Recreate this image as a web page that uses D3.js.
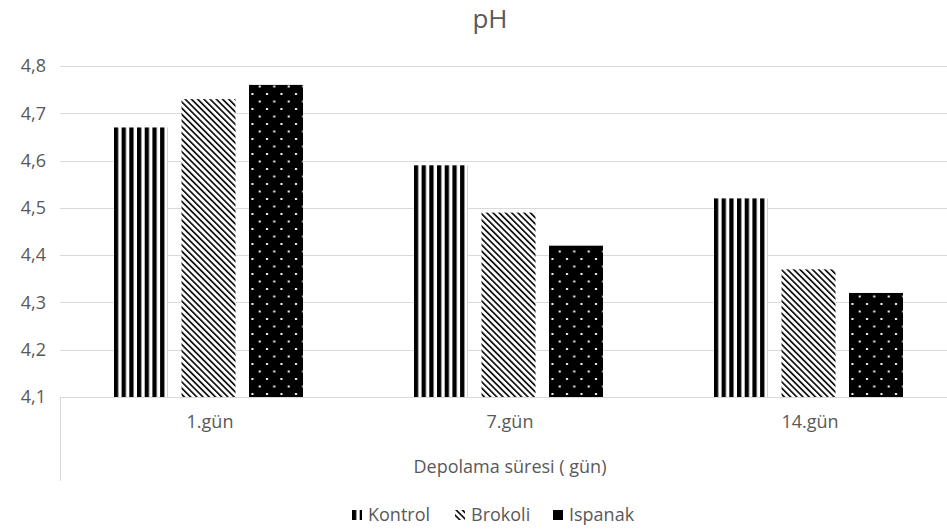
<!DOCTYPE html>
<html>
<head>
<meta charset="utf-8">
<script src="https://cdn.jsdelivr.net/npm/d3@7"></script>
<style>
  html, body { margin: 0; padding: 0; background: #fff; }
  svg { display: block; font-family: "Open Sans", "Noto Sans", sans-serif; }
</style>
</head>
<body>
<div id="chart"></div>
<script>
// pH değerleri, depolama süresine göre
const categories = ["1.gün", "7.gün", "14.gün"];
const seriesNames = ["Kontrol", "Brokoli", "Ispanak"];
const kontrol = [4.67, 4.59, 4.52];
const brokoli = [4.73, 4.49, 4.37];
const ispanak = [4.76, 4.42, 4.32];
const yTicks = [4.1, 4.2, 4.3, 4.4, 4.5, 4.6, 4.7, 4.8];
const chartTitle = "pH";
const xAxisTitle = "Depolama süresi ( gün)";

const seriesValues = [kontrol, brokoli, ispanak];
const patternIds = ["pat-kontrol", "pat-brokoli", "pat-ispanak"];

const W = 947, H = 529;
// the plot area runs slightly past the right edge of the canvas
const plot = { left: 60, right: 960, top: 66, bottom: 397 };
const textColor = "#595959";
const gridColor = "#d9d9d9";

const svg = d3.select("#chart").append("svg")
  .attr("width", W).attr("height", H);

// Fill patterns
const defs = svg.append("defs");
const pk = defs.append("pattern").attr("id", patternIds[0])
  .attr("patternUnits", "userSpaceOnUse").attr("width", 7.7).attr("height", 10);
pk.append("rect").attr("width", 7.7).attr("height", 10).attr("fill", "#fff");
pk.append("rect").attr("x", 0).attr("width", 4.3).attr("height", 10).attr("fill", "#000");

const pb = defs.append("pattern").attr("id", patternIds[1])
  .attr("patternUnits", "userSpaceOnUse").attr("width", 4.4).attr("height", 10)
  .attr("patternTransform", "rotate(-45)");
pb.append("rect").attr("width", 4.4).attr("height", 10).attr("fill", "#fff");
pb.append("rect").attr("width", 1.6).attr("height", 10).attr("fill", "#000");

const pi = defs.append("pattern").attr("id", patternIds[2])
  .attr("patternUnits", "userSpaceOnUse").attr("width", 14.5).attr("height", 15);
pi.append("rect").attr("width", 14.5).attr("height", 15).attr("fill", "#000");
pi.append("rect").attr("x", 3).attr("y", 3).attr("width", 2).attr("height", 2).attr("fill", "#fff");
pi.append("rect").attr("x", 10.25).attr("y", 10.5).attr("width", 2).attr("height", 2).attr("fill", "#fff");

// Scales
const y = d3.scaleLinear().domain([4.1, 4.8]).range([plot.bottom, plot.top]);
const x0 = d3.scaleBand().domain(categories).range([plot.left, plot.right]).padding(0);
const x1 = d3.scaleBand().domain(seriesNames)
  .range([54, 243]).paddingInner(0.2).paddingOuter(0);

const fmt = v => d3.format(".1f")(v).replace(".", ",");

// Gridlines
svg.append("g").selectAll("line").data(yTicks.slice(1)).join("line")
  .attr("x1", plot.left).attr("x2", plot.right)
  .attr("y1", d => Math.round(y(d)) + 0.5).attr("y2", d => Math.round(y(d)) + 0.5)
  .attr("stroke", gridColor).attr("stroke-width", 1);

// Y axis labels
const yAxis = d3.axisLeft(y).tickValues(yTicks).tickFormat(fmt).tickSize(0).tickPadding(14);
const gy = svg.append("g").attr("transform", `translate(${plot.left},0)`).call(yAxis);
gy.select(".domain").remove();
gy.selectAll("text").attr("fill", textColor).style("font-size", "18px")
  .style("font-family", "'Open Sans', sans-serif");

// Bars
const groups = svg.append("g").selectAll("g").data(categories).join("g")
  .attr("transform", d => `translate(${x0(d)},0)`);
groups.selectAll("rect")
  .data((c, ci) => seriesNames.map((s, si) => ({ s, si, v: seriesValues[si][ci] })))
  .join("rect")
  .attr("x", d => x1(d.s))
  .attr("width", x1.bandwidth())
  .attr("y", d => y(d.v))
  .attr("height", d => y(4.1) - y(d.v))
  .attr("fill", d => `url(#${patternIds[d.si]})`);

// Category axis
const xAxis = d3.axisBottom(x0).tickSize(0).tickPadding(18);
const gx = svg.append("g").attr("transform", `translate(0,${plot.bottom})`).call(xAxis);
gx.select(".domain").attr("stroke", gridColor).attr("d", `M${plot.left},0.5H${plot.right}`);
gx.selectAll("text").attr("fill", textColor).style("font-size", "18px")
  .style("font-family", "'Open Sans', sans-serif");
svg.append("line")
  .attr("x1", plot.left + 0.5).attr("x2", plot.left + 0.5)
  .attr("y1", plot.bottom).attr("y2", 481)
  .attr("stroke", gridColor);

// Axis title
svg.append("text").attr("x", (plot.left + plot.right) / 2).attr("y", 473)
  .attr("text-anchor", "middle").attr("fill", textColor)
  .style("font-size", "18px").text(xAxisTitle);

// Chart title
svg.append("text").attr("x", 490).attr("y", 28)
  .attr("text-anchor", "middle").attr("fill", textColor)
  .style("font-size", "26px").text(chartTitle);

// Legend
const legendX = [352, 455, 553];
const lg = svg.append("g").selectAll("g").data(seriesNames).join("g")
  .attr("transform", (d, i) => `translate(${legendX[i]},510)`);
lg.append("rect").attr("width", 10).attr("height", 10)
  .attr("fill", (d, i) => i === 2 ? "#000" : `url(#${patternIds[i]})`);
lg.append("text").attr("x", 16).attr("y", 11).attr("fill", textColor)
  .style("font-size", "18px").text(d => d);
</script>
</body>
</html>
